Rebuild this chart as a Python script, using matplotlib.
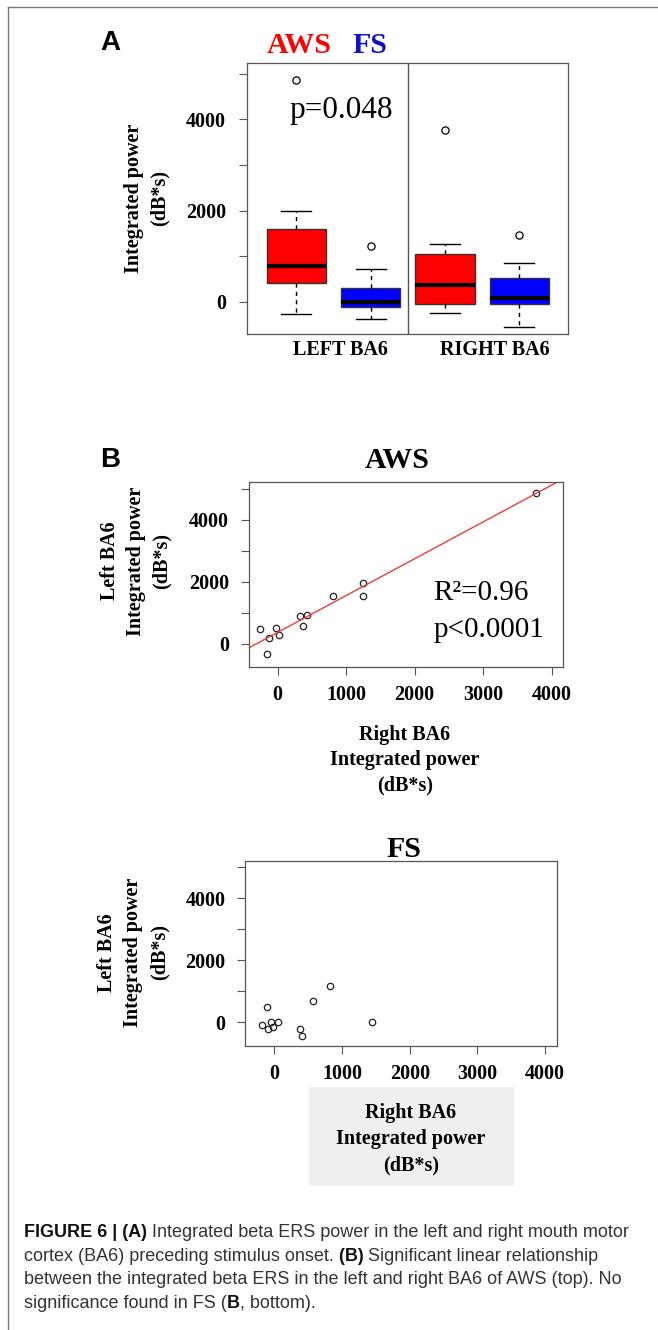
import numpy as np
import matplotlib
matplotlib.use("Agg")
import matplotlib.pyplot as plt
from matplotlib.lines import Line2D
from matplotlib.patches import Rectangle
from matplotlib.font_manager import FontProperties

# ---------------- data ----------------
box_groups = ["LEFT BA6 AWS", "LEFT BA6 FS", "RIGHT BA6 AWS", "RIGHT BA6 FS"]
box_colors = ["#FF0000", "#0000FF", "#FF0000", "#0000FF"]
box_whislo = [-270, -386, -241, -562]
box_q1 = [417, -123, -58, -58]
box_med = [783, 0, 359, 73]
box_q3 = [1588, 307, 1046, 512]
box_whishi = [1996, 724, 1258, 841]
box_fliers = [[4862], [1221], [3765], [1462]]
region_labels = ["LEFT BA6", "RIGHT BA6"]

aws_right = [-254, -132, -156, -25, 14, 326, 365, 428, 803, 1241, 1241, 3766]
aws_left = [494, 183, -312, 527, 280, 914, 581, 946, 1548, 1968, 1548, 4871]
fs_right = [-186, -98, -49, -15, 50, -103, 380, 404, 576, 823, 1438]
fs_left = [-87, -226, 0, -142, 0, 503, -216, -432, 687, 1181, 19]

y_ticks = [0, 1000, 2000, 3000, 4000, 5000]
y_ticklabels = ["0", "", "2000", "", "4000", ""]
x_ticks = [0, 1000, 2000, 3000, 4000]
x_ticklabels = ["0", "1000", "2000", "3000", "4000"]

W, H = 658, 1330
fig = plt.figure(figsize=(W / 100, H / 100), dpi=100)
fig.patch.set_facecolor("white")

SERIF = "Liberation Serif"
SANS = "Liberation Sans"
plt.rcParams["font.family"] = [SERIF, "DejaVu Serif"]

def fx(px):
    return px / W

def fy(py):
    return 1 - py / H

def add_axes_px(left, top, right, bottom):
    return fig.add_axes([fx(left), fy(bottom), (right - left) / W, (bottom - top) / H])

SPINE = "#555555"
TICKFS = 14.5

def style_axes(ax, pad_y=9.0, pad_x=7.0):
    for s in ax.spines.values():
        s.set_color(SPINE)
        s.set_linewidth(0.9)
    ax.tick_params(direction="out", length=5.8, width=0.8, color=SPINE,
                   pad=pad_y, axis="y")
    ax.tick_params(direction="out", length=5.8, width=0.8, color=SPINE,
                   pad=pad_x, axis="x")

# ---------------- figure frame ----------------
fig.add_artist(Line2D([fx(8), 1.0], [fy(7), fy(7)], color="#777777", lw=1.0))
fig.add_artist(Line2D([fx(8), fx(8)], [fy(7), 0.0], color="#777777", lw=1.0))

# ---------------- panel A ----------------
axA = add_axes_px(247.3, 63.3, 568.3, 334)
stats = []
for i in range(len(box_groups)):
    stats.append(dict(label=box_groups[i], med=box_med[i], q1=box_q1[i], q3=box_q3[i],
                      whislo=box_whislo[i], whishi=box_whishi[i], fliers=box_fliers[i]))
bp = axA.bxp(stats, positions=[1, 2, 3, 4], widths=0.8, patch_artist=True,
             capwidths=0.4,
             boxprops=dict(edgecolor="#333333", linewidth=1.0),
             medianprops=dict(color="black", linewidth=3.0, solid_capstyle="butt"),
             whiskerprops=dict(color="black", linewidth=1.0, linestyle=(0, (3, 3))),
             capprops=dict(color="black", linewidth=1.0),
             flierprops=dict(marker="o", markerfacecolor="none", markeredgecolor="black",
                             markersize=5.2, markeredgewidth=0.9))
for patch, c in zip(bp["boxes"], box_colors):
    patch.set_facecolor(c)
axA.axvline(2.5, color=SPINE, lw=1.0)
axA.set_xlim(0.34, 4.66)
axA.set_ylim(-708, 5228)
axA.set_xticks([])
axA.set_yticks(y_ticks)
axA.set_yticklabels(y_ticklabels, fontweight="bold", fontsize=TICKFS)
style_axes(axA, pad_y=9.5)

fig.text(fx(100), fy(50), "A", family=SANS, fontweight="bold", fontsize=20, ha="left", va="baseline")
fig.text(fx(267), fy(53), "AWS", color="#FF0000", fontweight="bold", fontsize=21.5, ha="left", va="baseline")
fig.text(fx(352), fy(53), "FS", color="#1010CC", fontweight="bold", fontsize=21.5, ha="left", va="baseline")
fig.text(fx(289), fy(118), "p=0.048", fontsize=22.5, ha="left", va="baseline")
fig.text(fx(340), fy(355), region_labels[0], fontweight="bold", fontsize=14.5, ha="center", va="baseline")
fig.text(fx(495), fy(355), region_labels[1], fontweight="bold", fontsize=14.5, ha="center", va="baseline")
fig.text(fx(134), fy(198), "Integrated power", fontweight="bold", fontsize=14.5,
         rotation=90, ha="center", va="center")
fig.text(fx(160), fy(198), "(dB*s)", fontweight="bold", fontsize=14.5,
         rotation=90, ha="center", va="center")

# ---------------- panel B (AWS) ----------------
axB = add_axes_px(248.7, 481.7, 563.3, 667.3)
axB.plot(aws_right, aws_left, linestyle="none", marker="o", markerfacecolor="none",
         markeredgecolor="#222222", markersize=4.6, markeredgewidth=0.9)
slope, intercept = np.polyfit(aws_right, aws_left, 1)
xl = np.array([-423, 4170])
axB.plot(xl, intercept + slope * xl, color="#F03C3C", lw=1.0)
axB.set_xlim(-423, 4170)
axB.set_ylim(-752, 5235)
axB.set_yticks(y_ticks)
axB.set_yticklabels(y_ticklabels, fontweight="bold", fontsize=TICKFS)
axB.set_xticks(x_ticks)
axB.set_xticklabels(x_ticklabels, fontweight="bold", fontsize=TICKFS)
style_axes(axB, pad_y=8.4, pad_x=7.0)

fig.text(fx(100), fy(467), "B", family=SANS, fontweight="bold", fontsize=20, ha="left", va="baseline")
fig.text(fx(397.5), fy(468), "AWS", fontweight="bold", fontsize=21.5, ha="center", va="baseline")
fig.text(fx(433.3), fy(600), "R\u00b2=0.96", fontsize=21, ha="left", va="baseline")
fig.text(fx(433.3), fy(636.7), "p<0.0001", fontsize=21, ha="left", va="baseline")
for xpx, s in zip([110, 135.7, 161.7], ["Left BA6", "Integrated power", "(dB*s)"]):
    fig.text(fx(xpx), fy(561), s, fontweight="bold", fontsize=14.5, rotation=90,
             ha="center", va="center")
for ypx, s in zip([740, 765.5, 790.5], ["Right BA6", "Integrated power", "(dB*s)"]):
    fig.text(fx(405), fy(ypx), s, fontweight="bold", fontsize=14.5, ha="center", va="baseline")

# ---------------- panel B (FS) ----------------
axC = add_axes_px(245, 860.7, 556.7, 1046)
axC.plot(fs_right, fs_left, linestyle="none", marker="o", markerfacecolor="none",
         markeredgecolor="#222222", markersize=4.6, markeredgewidth=0.9)
axC.set_xlim(-433, 4171)
axC.set_ylim(-765, 5213)
axC.set_yticks(y_ticks)
axC.set_yticklabels(y_ticklabels, fontweight="bold", fontsize=TICKFS)
axC.set_xticks(x_ticks)
axC.set_xticklabels(x_ticklabels, fontweight="bold", fontsize=TICKFS)
style_axes(axC, pad_y=8.4, pad_x=7.0)

fig.text(fx(404), fy(857), "FS", fontweight="bold", fontsize=21.5, ha="center", va="baseline")
for xpx, s in zip([106.7, 133.3, 160], ["Left BA6", "Integrated power", "(dB*s)"]):
    fig.text(fx(xpx), fy(952.5), s, fontweight="bold", fontsize=14.5, rotation=90,
             ha="center", va="center")
fig.add_artist(Rectangle((fx(309.3), fy(1185.7)), (514 - 309.3) / W, (1185.7 - 1086.7) / H,
                         facecolor="#EFEFEF", edgecolor="none", zorder=0))
for ypx, s in zip([1117.7, 1144, 1170], ["Right BA6", "Integrated power", "(dB*s)"]):
    fig.text(fx(411), fy(ypx), s, fontweight="bold", fontsize=14.5, ha="center", va="baseline")

# ---------------- caption ----------------
renderer = fig.canvas.get_renderer()
CAPFS = 13
prop_b = FontProperties(family=SANS, weight="bold", size=CAPFS)
prop_r = FontProperties(family=SANS, weight="normal", size=CAPFS)

def tw(s, prop):
    w, h, d = renderer.get_text_width_height_descent(s, prop, ismath=False)
    return w

caption_lines = [
    [("FIGURE 6 | (A) ", True), ("Integrated beta ERS power in the left and right mouth motor", False)],
    [("cortex (BA6) preceding stimulus onset. ", False), ("(B) ", True), ("Significant linear relationship", False)],
    [("between the integrated beta ERS in the left and right BA6 of AWS (top). No", False)],
    [("significance found in FS (", False), ("B", True), (", bottom).", False)],
]
cap_baselines = [1237, 1260.7, 1284.3, 1308]
for parts, base in zip(caption_lines, cap_baselines):
    xpx = 24
    for s, bold in parts:
        prop = prop_b if bold else prop_r
        fig.text(fx(xpx), fy(base), s, fontproperties=prop,
                 color="#111111" if bold else "#333333", ha="left", va="baseline")
        xpx += tw(s + "X", prop) - tw("X", prop)

fig.savefig("out.png", dpi=100, facecolor="white")
